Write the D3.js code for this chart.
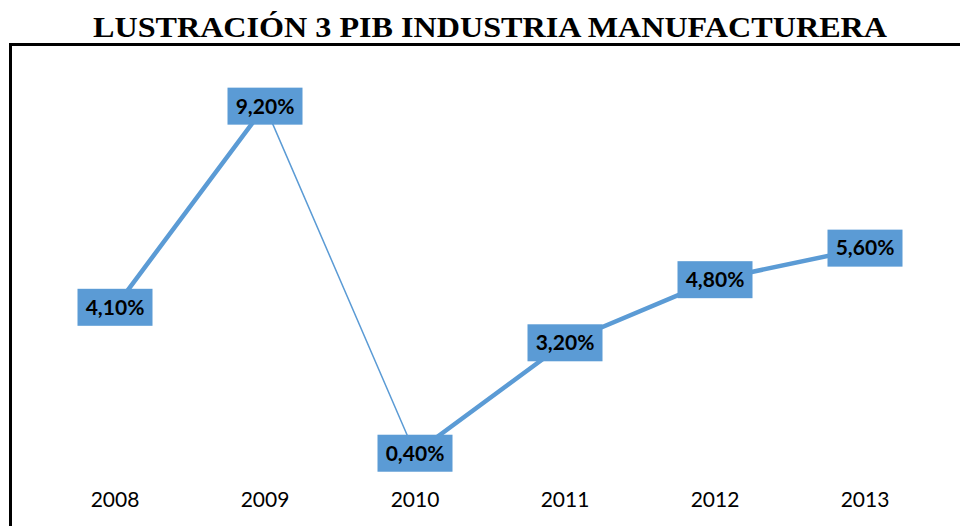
<!DOCTYPE html>
<html lang="es">
<head>
<meta charset="utf-8">
<title>PIB Industria Manufacturera</title>
<script src="https://cdn.jsdelivr.net/npm/d3@7/dist/d3.min.js"></script>
<style>
  body { margin: 0; background: #fff; }
  svg { display: block; }
  .title { font-family: "Liberation Serif", "Times New Roman", serif; font-weight: bold; font-size: 29px; }
  .cat { font-family: Lato, "Open Sans", sans-serif; font-size: 21px; fill: #000; }
  .lbl { font-family: Lato, "Open Sans", sans-serif; font-weight: bold; font-size: 21px; fill: #000; }
</style>
</head>
<body>
<script>
// datos
const years = ["2008", "2009", "2010", "2011", "2012", "2013"];
const pib = [4.1, 9.2, 0.4, 3.2, 4.8, 5.6];
const labels = ["4,10%", "9,20%", "0,40%", "3,20%", "4,80%", "5,60%"];

const w = 960, h = 526;
const blue = "#5b9bd5";

const svg = d3.select("body").append("svg")
  .attr("width", w)
  .attr("height", h);

// title (stretched wide like the original)
svg.append("text")
  .attr("class", "title")
  .attr("x", 93)
  .attr("y", 37)
  .attr("textLength", 794)
  .attr("lengthAdjust", "spacingAndGlyphs")
  .text("LUSTRACIÓN 3 PIB INDUSTRIA MANUFACTURERA");

// frame (runs off right and bottom edges)
svg.append("rect")
  .attr("x", 10.5)
  .attr("y", 44.5)
  .attr("width", 1000)
  .attr("height", 600)
  .attr("fill", "none")
  .attr("stroke", "#000")
  .attr("stroke-width", 3);

const x = d3.scalePoint()
  .domain(years)
  .range([40, 940])
  .padding(0.5);

const y = d3.scaleLinear()
  .domain([0, 10])
  .range([469, 74.6]);

const pts = years.map((yr, i) => ({ year: yr, v: pib[i], label: labels[i] }));

// line segments: the 2009-2010 drop is drawn thin
const segs = d3.pairs(pts);
svg.selectAll("line.seg")
  .data(segs)
  .enter()
  .append("line")
  .attr("class", "seg")
  .attr("x1", d => x(d[0].year))
  .attr("y1", d => y(d[0].v))
  .attr("x2", d => x(d[1].year))
  .attr("y2", d => y(d[1].v))
  .attr("stroke", blue)
  .attr("stroke-linecap", "round")
  .attr("stroke-width", d => d[0].year === "2009" ? 1.5 : 4.5);

// data labels
const bw = 75, bh = 37;
const g = svg.selectAll("g.lab")
  .data(pts)
  .enter()
  .append("g")
  .attr("class", "lab")
  .attr("transform", d => `translate(${x(d.year)},${y(d.v)})`);

g.append("rect")
  .attr("x", -bw / 2)
  .attr("y", -bh / 2)
  .attr("width", bw)
  .attr("height", bh)
  .attr("fill", blue);

g.append("text")
  .attr("class", "lbl")
  .attr("text-anchor", "middle")
  .attr("dy", "0.35em")
  .text(d => d.label);

// category labels
svg.selectAll("text.cat")
  .data(years)
  .enter()
  .append("text")
  .attr("class", "cat")
  .attr("x", d => x(d))
  .attr("y", 507)
  .attr("text-anchor", "middle")
  .text(d => d);
</script>
</body>
</html>
